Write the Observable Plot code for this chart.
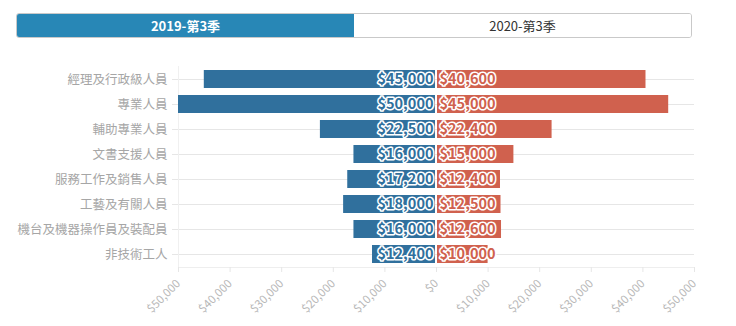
<!DOCTYPE html>
<html><head><meta charset="utf-8">
<script src="https://cdn.jsdelivr.net/npm/d3@7"></script>
<script src="https://cdn.jsdelivr.net/npm/@observablehq/plot@0.6"></script>
<style>
body{margin:0;background:#fff;font-family:"Noto Sans CJK TC","Liberation Sans",sans-serif;}
#wrap{position:relative;width:736px;height:326px;}
#tabs{position:absolute;left:16px;top:13px;width:676px;height:25px;display:flex;box-sizing:border-box;border:1px solid #c9c9c9;border-radius:3px;overflow:hidden;}
#tabs div{flex:1;text-align:center;line-height:23px;font-size:13px;}
#tabs .on{background:#2887b6;color:#fff;font-weight:bold;}
#tabs .off{background:#fff;color:#333;}
#chart{position:absolute;left:0;top:45px;}
</style></head>
<body><div id="wrap">
<div id="tabs"><div class="on" id="t1"></div><div class="off" id="t2"></div></div>
<div id="chart"></div></div>
<script>
const periods = ["2019-第3季", "2020-第3季"];
const categories = ["經理及行政級人員","專業人員","輔助專業人員","文書支援人員","服務工作及銷售人員","工藝及有關人員","機台及機器操作員及裝配員","非技術工人"];
const values2019 = [45000, 50000, 22500, 16000, 17200, 18000, 16000, 12400];
const values2020 = [40600, 45000, 22400, 15000, 12400, 12500, 12600, 10000];
const xTicks = [-50000,-40000,-30000,-20000,-10000,0,10000,20000,30000,40000,50000];

document.getElementById("t1").textContent = periods[0];
document.getElementById("t2").textContent = periods[1];

const left = categories.map((c,i)=>({cat:c, v:values2019[i]}));
const right = categories.map((c,i)=>({cat:c, v:values2020[i]}));
const fmt = d => "$" + d3.format(",")(Math.abs(d));
const blue = "#30709d", red = "#d0614e";

const chart = Plot.plot({
  width: 736, height: 281,
  marginLeft: 178, marginRight: 42, marginTop: 21, marginBottom: 59,
  style: {fontFamily: '"Noto Sans CJK TC","Liberation Sans",sans-serif', background: "#fff"},
  x: {domain: [-50000, 50000]},
  y: {domain: categories, paddingInner: 0.28, paddingOuter: 0.14},
  marks: [
    Plot.gridY({stroke: "#e6e6e6", strokeOpacity: 1}),
    Plot.frame({anchor: "bottom", stroke: "#eee"}),
    Plot.frame({anchor: "left", stroke: "#f0f0f0"}),
    Plot.axisY({tickSize: 6, stroke: "#e6e6e6", tickPadding: 5, fontSize: 12.5, color: "#a6a6a6", label: null}),
    Plot.axisX({ticks: xTicks, tickFormat: fmt, tickRotate: -45, tickSize: 5, stroke: "#e6e6e6", color: "#b8b8b8", fontSize: 11.5, label: null, tickPadding: 9}),
    Plot.barX(left, {x1: d => -d.v, x2: 0, y: "cat", fill: blue, insetRight: 1}),
    Plot.barX(right, {x1: 0, x2: "v", y: "cat", fill: red, insetLeft: 1}),
    Plot.text(left, {x: 0, y: "cat", text: d => fmt(d.v), textAnchor: "end", dx: -3, fill: blue, stroke: "#fff", strokeWidth: 3, fontSize: 14.5, fontWeight: "bold"}),
    Plot.text(right, {x: 0, y: "cat", text: d => fmt(d.v), textAnchor: "start", dx: 3, fill: red, stroke: "#fff", strokeWidth: 3, fontSize: 14.5, fontWeight: "bold"})
  ]
});
document.getElementById("chart").appendChild(chart);
</script></body></html>
